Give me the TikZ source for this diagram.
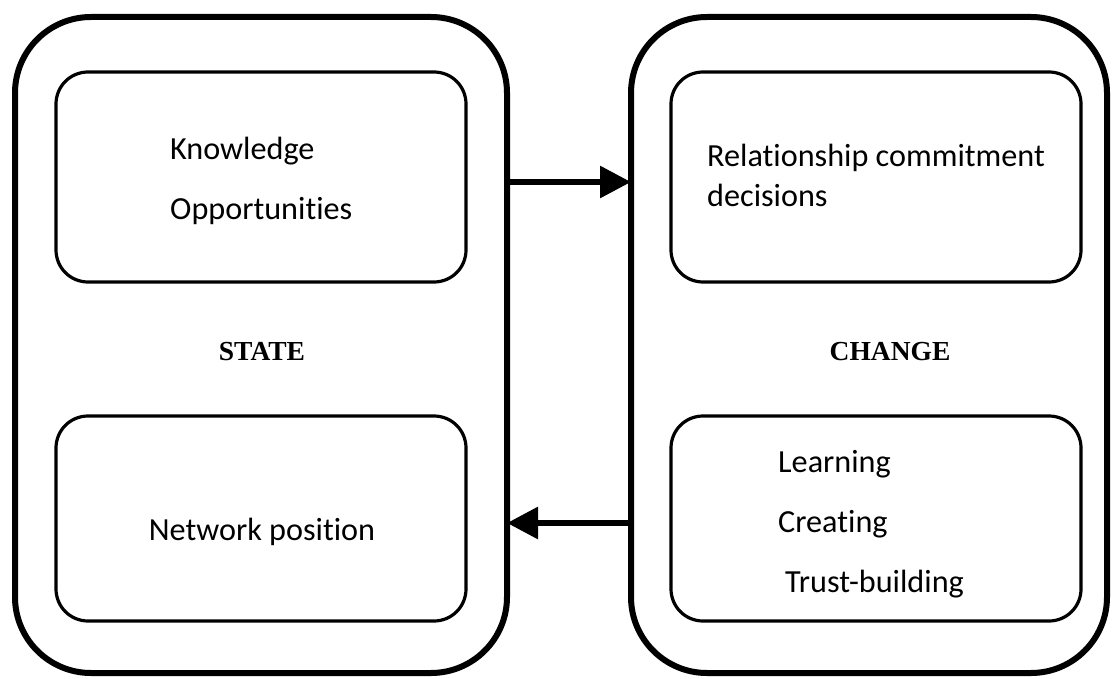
\documentclass[tikz,border=0pt]{standalone}
\usepackage{fontspec}
\setmainfont{Carlito}[Ligatures=NoCommon]
\newfontfamily\headfont{Liberation Serif}
\usetikzlibrary{arrows.meta,calc}
\begin{document}
\begin{tikzpicture}[x=1pt,y=-1pt,
  outerbox/.style={draw, line width=6pt, rounded corners=76pt, inner sep=0pt, outer sep=0pt},
  innerbox/.style={draw, line width=3.2pt, rounded corners=32pt, inner sep=0pt, outer sep=0pt},
  lbl/.style={anchor=base west, inner sep=0pt, font=\fontsize{32.2}{36}\selectfont},
  head/.style={anchor=center, inner sep=0pt, font=\headfont\bfseries\fontsize{27.5}{30}\selectfont},
  arr/.style={line width=6pt, -{Triangle[length=31pt,width=31pt]}}]
\useasboundingbox (0,0) rectangle (1116,679);
% outer boxes
\node[outerbox, minimum width=492pt, minimum height=656pt] (lo) at (261,345) {};
\node[outerbox, minimum width=476pt, minimum height=656pt] (ro) at (869,345) {};
% inner boxes
\node[innerbox, minimum width=410pt, minimum height=210pt] (lit) at (261,177) {};
\node[innerbox, minimum width=410pt, minimum height=205pt] (lib) at (261,518.5) {};
\node[innerbox, minimum width=410pt, minimum height=210pt] (rit) at (876,177) {};
\node[innerbox, minimum width=410pt, minimum height=205pt] (rib) at (876,518.5) {};
% headings
\node[head] (state) at (262,352) {STATE};
\node[head] (change) at (890,352) {CHANGE};
% texts
\node[lbl] (t1) at (170,160) {Knowledge};
\node[lbl] (t2) at (170,219) {Opportunities};
\node[lbl] (t3) at (707,167) {Relationship commitment};
\node[lbl] (t4) at (707,207) {decisions};
\node[lbl, anchor=base] (t5) at (262,540) {Network position};
\node[lbl] (t6) at (778,472) {Learning};
\node[lbl] (t7) at (778,532) {Creating};
\node[lbl] (t8) at (785,592) {Trust-building};
% arrows
\draw[arr] (lo.east |- 0,182) -- (ro.west |- 0,182);
\draw[arr] (ro.west |- 0,523) -- (lo.east |- 0,523);
\end{tikzpicture}
\end{document}
